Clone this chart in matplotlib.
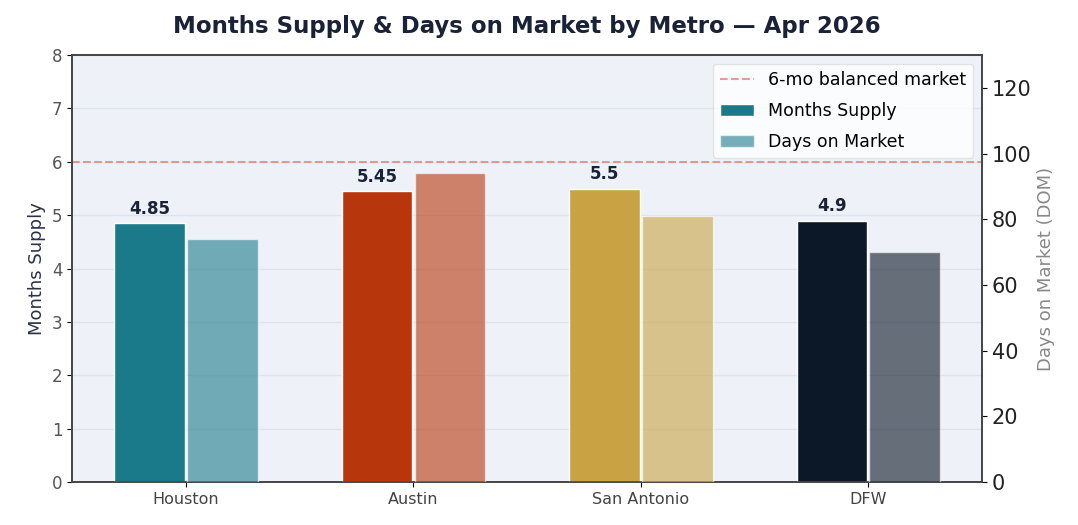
import numpy as np
import matplotlib
matplotlib.use("Agg")
import matplotlib.pyplot as plt

metros = ["Houston", "Austin", "San Antonio", "DFW"]
months_supply = [4.85, 5.45, 5.5, 4.9]
days_on_market = [74, 94, 81, 70]
colors = ["#1b7a8a", "#b8360c", "#c9a244", "#0c1727"]
balanced = 6

x = np.arange(len(metros))
w = 0.31

fig, ax = plt.subplots(figsize=(10.78, 5.25), dpi=100)
fig.subplots_adjust(left=0.067, right=0.911, top=0.895, bottom=0.082)
ax.set_facecolor("#eef2f8")
ax2 = ax.twinx()

ms_bars = ax.bar(x - 0.16, months_supply, w, color=colors, edgecolor="white",
                 linewidth=1, zorder=3, label="Months Supply")
dom_bars = ax2.bar(x + 0.16, days_on_market, w, color=colors, alpha=0.6,
                   edgecolor="white", linewidth=1, zorder=3, label="Days on Market")
line = ax.axhline(balanced, color="#d9877c", ls="--", lw=1.5, alpha=0.8, zorder=2,
                  label="6-mo balanced market")

for b, v in zip(ms_bars, months_supply):
    ax.text(b.get_x() + b.get_width() / 2, v + 0.1, f"{v:g}", ha="center",
            va="bottom", fontsize=12, fontweight="bold", color="#1a2238")

ax.set_xlim(-0.5, 3.5)
ax.set_ylim(0, 8)
ax2.set_ylim(0, 130)
ax.set_xticks(x)
ax.set_xticklabels(metros, fontsize=11.5, color="#444444")
ax.tick_params(axis="y", labelsize=12, labelcolor="#555555")
ax2.tick_params(axis="y", labelsize=15, labelcolor="#222222")
ax.set_ylabel("Months Supply", fontsize=13, color="#2a3048")
ax2.set_ylabel("Days on Market (DOM)", fontsize=13, color="#888888")
ax.yaxis.grid(True, color="#dde3ec", lw=1, zorder=0)
ax.set_axisbelow(True)
for a in (ax, ax2):
    for s in a.spines.values():
        s.set_color("#444444")
        s.set_linewidth(1.2)

ax.set_title("Months Supply & Days on Market by Metro — Apr 2026",
             fontsize=16.5, fontweight="bold", color="#1a2238", pad=16)

handles = [line, ms_bars.patches[0], dom_bars.patches[0]]
ax2.legend(handles, [h.get_label() for h in [line, ms_bars, dom_bars]],
           loc="upper right", fontsize=12.5, labelspacing=0.75, framealpha=0.8,
           facecolor="white", edgecolor="#dddddd")

plt.savefig("out.png", dpi=100)
